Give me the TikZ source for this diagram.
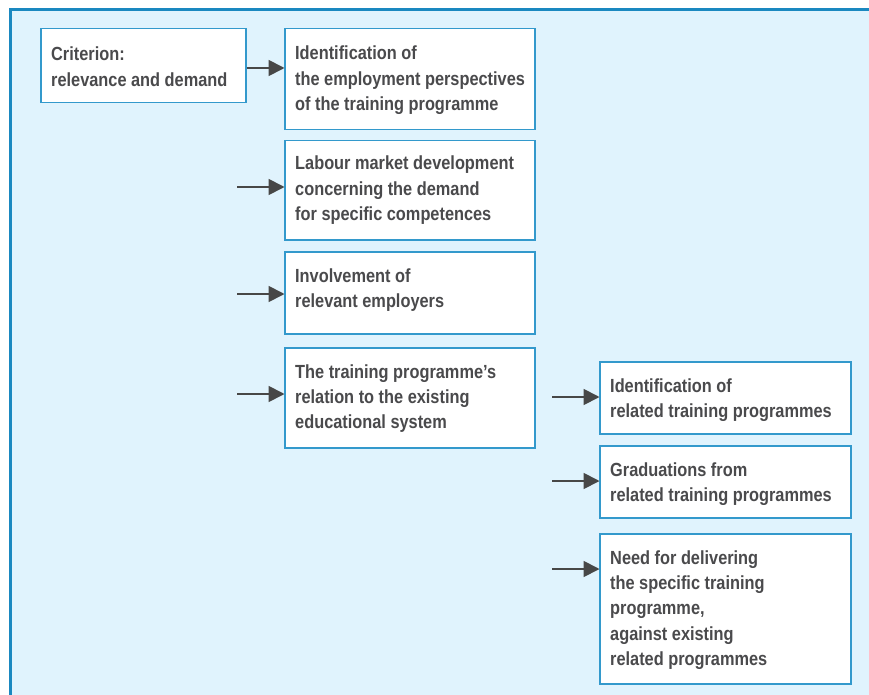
\documentclass[tikz,border=0pt]{standalone}
\usepackage{fontspec}
\setmainfont[FakeStretch=0.86]{Liberation Sans}
\usetikzlibrary{arrows.meta}
\definecolor{framec}{HTML}{1A88C0}
\definecolor{bgc}{HTML}{E0F3FD}
\definecolor{boxc}{HTML}{3399CC}
\definecolor{txtc}{HTML}{4A4A4C}
\definecolor{arrc}{HTML}{474747}
\tikzset{
  box/.style={draw=boxc, line width=1.5pt, fill=white, rectangle, anchor=north west, inner sep=0pt},
  lbl/.style={anchor=base west, inner sep=0pt, text=txtc, font=\fontsize{19}{25.4}\selectfont\bfseries},
  arr/.style={draw=arrc, line width=1.8pt, -{Triangle[length=16pt,width=16pt]}, shorten >=-0.5pt},
}
\newcommand{\lines}[1]{\begin{tabular}[t]{@{}l@{}}#1\end{tabular}}
\begin{document}
\begin{tikzpicture}[x=1pt,y=-1pt]
\clip (0,0) rectangle (869,695);
\fill[white] (0,0) rectangle (869,695);
\draw[framec, line width=3pt, fill=bgc] (10,10) rectangle (900,720);
% boxes
\node[box, minimum width=205pt, minimum height=74pt] (c0) at (40,28) {};
\node[box, minimum width=250pt, minimum height=101pt] (b1) at (284,28) {};
\node[box, minimum width=250pt, minimum height=99pt] (b2) at (284,140) {};
\node[box, minimum width=250pt, minimum height=82pt] (b3) at (284,251) {};
\node[box, minimum width=250pt, minimum height=100pt] (b4) at (284,347) {};
\node[box, minimum width=251pt, minimum height=72pt] (b5) at (599,361) {};
\node[box, minimum width=251pt, minimum height=72pt] (b6) at (599,445) {};
\node[box, minimum width=251pt, minimum height=150pt] (b7) at (599,533) {};
% texts
\node[lbl] (t0) at ([xshift=11pt,yshift=-33pt]c0.north west) {\lines{Criterion:\\relevance and demand}};
\node[lbl] (t1) at ([xshift=11pt,yshift=-32pt]b1.north west) {\lines{Identification of\\the employment perspectives\\of the training programme}};
\node[lbl] (t2) at ([xshift=11pt,yshift=-30pt]b2.north west) {\lines{Labour market development\\concerning the demand\\for specific competences}};
\node[lbl] (t3) at ([xshift=11pt,yshift=-31pt]b3.north west) {\lines{Involvement of\\relevant employers}};
\node[lbl] (t4) at ([xshift=11pt,yshift=-31pt]b4.north west) {\lines{The training programme’s\\relation to the existing\\educational system}};
\node[lbl] (t5) at ([xshift=11pt,yshift=-31pt]b5.north west) {\lines{Identification of\\related training programmes}};
\node[lbl] (t6) at ([xshift=11pt,yshift=-31pt]b6.north west) {\lines{Graduations from\\related training programmes}};
\node[lbl] (t7) at ([xshift=11pt,yshift=-31pt]b7.north west) {\lines{Need for delivering\\the specific training\\programme,\\against existing\\related programmes}};
% arrow starts
\coordinate (s2) at (237,187);
\coordinate (s3) at (237,294);
\coordinate (s4) at (237,394);
\coordinate (s5) at (552,397);
\coordinate (s6) at (552,481);
\coordinate (s7) at (552,569);
% arrows
\draw[arr] (c0.east |- 0,68) -- (b1.west |- 0,68);
\draw[arr] (s2) -- (b2.west |- s2);
\draw[arr] (s3) -- (b3.west |- s3);
\draw[arr] (s4) -- (b4.west |- s4);
\draw[arr] (s5) -- (b5.west |- s5);
\draw[arr] (s6) -- (b6.west |- s6);
\draw[arr] (s7) -- (b7.west |- s7);
\end{tikzpicture}
\end{document}
